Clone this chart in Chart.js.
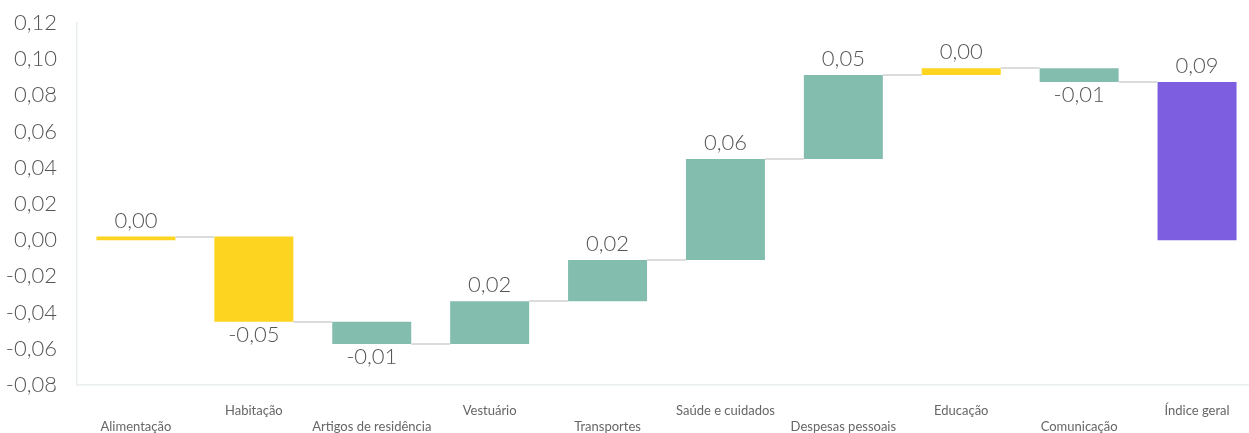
<!DOCTYPE html>
<html>
<head>
<meta charset="utf-8">
<script src="https://cdn.jsdelivr.net/npm/chart.js@4/dist/chart.umd.min.js"></script>
<style>
  html, body { margin: 0; padding: 0; background: #fff; overflow: hidden; }
  #wrap { width: 1256px; height: 433px; }
</style>
</head>
<body>
<div id="wrap"><canvas id="grafico"></canvas></div>
<script>
// dados do gráfico (contribuição por grupo)
var categorias = ['Alimentação', 'Habitação', 'Artigos de residência', 'Vestuário', 'Transportes',
  'Saúde e cuidados', 'Despesas pessoais', 'Educação', 'Comunicação', 'Índice geral'];
var variacoes = [0.002, -0.047, -0.0123, 0.0236, 0.0228, 0.0558, 0.0464, 0.0037, -0.0076];
var totalGeral = 0.0874;
var ticksY = [-0.08, -0.06, -0.04, -0.02, 0, 0.02, 0.04, 0.06, 0.08, 0.10, 0.12];

var corBarra = ['#FDD41F', '#FDD41F', '#82BDAE', '#82BDAE', '#82BDAE', '#82BDAE', '#82BDAE', '#FDD41F', '#82BDAE', '#7E5EE0'];
var fonte = "'Source Sans Pro', Lato, 'Open Sans', sans-serif";

function fmt(v) { return v.toFixed(2).replace('.', ','); }

// monta as barras flutuantes [inicio, fim]
var faixas = []; var rotulos = []; var acum = 0;
variacoes.forEach(function(d) {
  faixas.push([acum, acum + d]);
  rotulos.push(d);
  acum += d;
});
faixas.push([0, totalGeral]);
rotulos.push(totalGeral);

// linhas de ligação + rótulos de valor
var pluginCascata = {
  id: 'cascata',
  afterDatasetsDraw: function(chart) {
    var ctx = chart.ctx;
    var meta = chart.getDatasetMeta(0);
    var y = chart.scales.y;
    ctx.save();
    ctx.strokeStyle = '#dcdcdc';
    ctx.lineWidth = 2;
    for (var i = 0; i < meta.data.length - 1; i++) {
      var a = meta.data[i], b = meta.data[i + 1];
      var py = Math.round(y.getPixelForValue(faixas[i][1]));
      ctx.beginPath();
      ctx.moveTo(a.x + a.width / 2, py);
      ctx.lineTo(b.x - b.width / 2, py);
      ctx.stroke();
    }
    ctx.fillStyle = '#555';
    ctx.font = '300 22px ' + fonte;
    ctx.textAlign = 'center';
    meta.data.forEach(function(bar, i) {
      var r = rotulos[i];
      var topo = y.getPixelForValue(Math.max(faixas[i][0], faixas[i][1]));
      var base = y.getPixelForValue(Math.min(faixas[i][0], faixas[i][1]));
      if (r >= 0) {
        ctx.textBaseline = 'bottom';
        ctx.fillText(fmt(r), bar.x, topo - 5);
      } else {
        ctx.textBaseline = 'top';
        ctx.fillText(fmt(r), bar.x, base + 2);
      }
    });
    ctx.restore();
  }
};

new Chart(document.getElementById('grafico'), {
  type: 'bar',
  data: {
    labels: categorias,
    datasets: [{ data: faixas, backgroundColor: corBarra, borderWidth: 0,
      barPercentage: 0.67, categoryPercentage: 1 }]
  },
  options: {
    responsive: true, maintainAspectRatio: false, animation: false,
    layout: { padding: { top: 0, right: 0, left: 0, bottom: 0 } },
    plugins: { legend: { display: false }, tooltip: { enabled: false } },
    scales: {
      x: {
        grid: { display: false },
        border: { color: '#e8efed', width: 1.5 },
        ticks: {
          color: '#666', font: { family: fonte, size: 13, lineHeight: 1.2 }, padding: 10,
          maxRotation: 0, autoSkip: false,
          callback: function(v, i) { var t = categorias[i]; return i % 2 === 0 ? ['', t] : [t]; }
        },
        afterFit: function(s) { s.height = 48; }
      },
      y: {
        min: -0.08, max: 0.12,
        grid: { display: false },
        border: { color: '#e8efed', width: 1.5 },
        afterBuildTicks: function(s) { s.ticks = ticksY.map(function(v) { return { value: v }; }); },
        ticks: {
          color: '#555', font: { family: fonte, size: 22, weight: '300', lineHeight: 1.0 }, padding: 12,
          callback: function(v) { return fmt(v); }
        },
        afterFit: function(s) { s.width = 77; }
      }
    }
  },
  plugins: [pluginCascata]
});
</script>
</body>
</html>
